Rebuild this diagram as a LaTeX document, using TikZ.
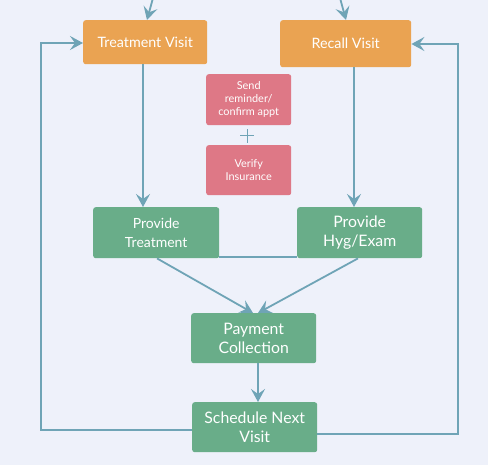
\documentclass[tikz,border=0pt]{standalone}
\usepackage{fontspec}
\setmainfont{Lato}
\usetikzlibrary{arrows.meta}
\definecolor{bg}{HTML}{EEF1FA}
\definecolor{orangebox}{HTML}{EAA352}
\definecolor{pinkbox}{HTML}{DE7886}
\definecolor{greenbox}{HTML}{69AD89}
\definecolor{linec}{HTML}{6FA4B6}
\tikzset{
  box/.style={rounded corners=2.5pt, text=white, align=center, inner sep=0pt, anchor=north west},
  obox/.style={box, fill=orangebox, font=\fontsize{14.3}{16}\selectfont},
  pbox/.style={box, fill=pinkbox, font=\fontsize{10.9}{13}\selectfont},
  gbox/.style={box, fill=greenbox, font=\fontsize{14}{19}\selectfont},
  gboxl/.style={box, fill=greenbox, font=\fontsize{15.8}{19}\selectfont},
  conn/.style={draw=linec, line width=1.8pt, -{Stealth[length=13pt, width=14pt, inset=5pt]}},
  plain/.style={draw=linec, line width=1.8pt},
}
\begin{document}
\begin{tikzpicture}[x=1pt, y=-1pt]
\fill[bg] (0,0) rectangle (488,465);
\useasboundingbox (0,0) rectangle (488,465);

\node[obox, minimum width=124pt, minimum height=44pt] (tv) at (83,20) {Treatment Visit};
\node[obox, minimum width=131pt, minimum height=47pt] (rv) at (280,20) {Recall Visit};
\node[pbox, minimum width=85pt, minimum height=51pt] (sr) at (206,74) {Send\\reminder/\\confirm appt};
\node[pbox, minimum width=85pt, minimum height=50pt] (vi) at (206,145) {Verify\\Insurance};
\node[gbox, minimum width=126pt, minimum height=51pt] (pt) at (93,207) {Provide\\Treatment};
\node[gboxl, minimum width=125pt, minimum height=51pt] (ph) at (297,207) {Provide\\Hyg/Exam};
\node[gboxl, minimum width=125pt, minimum height=50pt] (pc) at (191,313) {Payment\\Collection};
\node[gboxl, minimum width=125pt, minimum height=50pt] (sn) at (192,402) {Schedule Next\\Visit};

% plus sign between pink boxes
\coordinate (plusc) at (247,136);
\draw[linec, line width=1pt] ([xshift=-7pt]plusc) -- ([xshift=7pt]plusc);
\draw[linec, line width=1pt] ([yshift=-7pt]plusc) -- ([yshift=7pt]plusc);

% incoming arrows at top
\coordinate (tvin) at (153,-2);
\coordinate (rvin) at (340,-2);
\draw[conn] (tvin) -- (tv.north -| 147,0);
\draw[conn] (rvin) -- (rv.north -| 346,0);

% visits down to providers
\draw[conn] (tv.south -| 143,0) -- (pt.north -| 143,0);
\draw[conn] (rv.south -| 354,0) -- (ph.north -| 354,0);

% connection line between providers
\draw[plain] (pt.south east) ++(0,-1) -- ([yshift=1pt]ph.south west);

% providers to payment
\draw[conn] (pt.south -| 157,0) -- (pc.north -| 253,0);
\draw[conn] (ph.south -| 358,0) -- (pc.north -| 258,0);

% payment to schedule
\draw[conn] (pc.south -| 258,0) -- (sn.north -| 258,0);

% loop back
\draw[conn] (sn.west |- 0,430) -- (41,430) -- (41,43) -- (tv.west |- 0,43);
\draw[conn] (sn.east |- 0,434) -- (458,434) -- (458,44) -- (rv.east |- 0,44);
\end{tikzpicture}
\end{document}
